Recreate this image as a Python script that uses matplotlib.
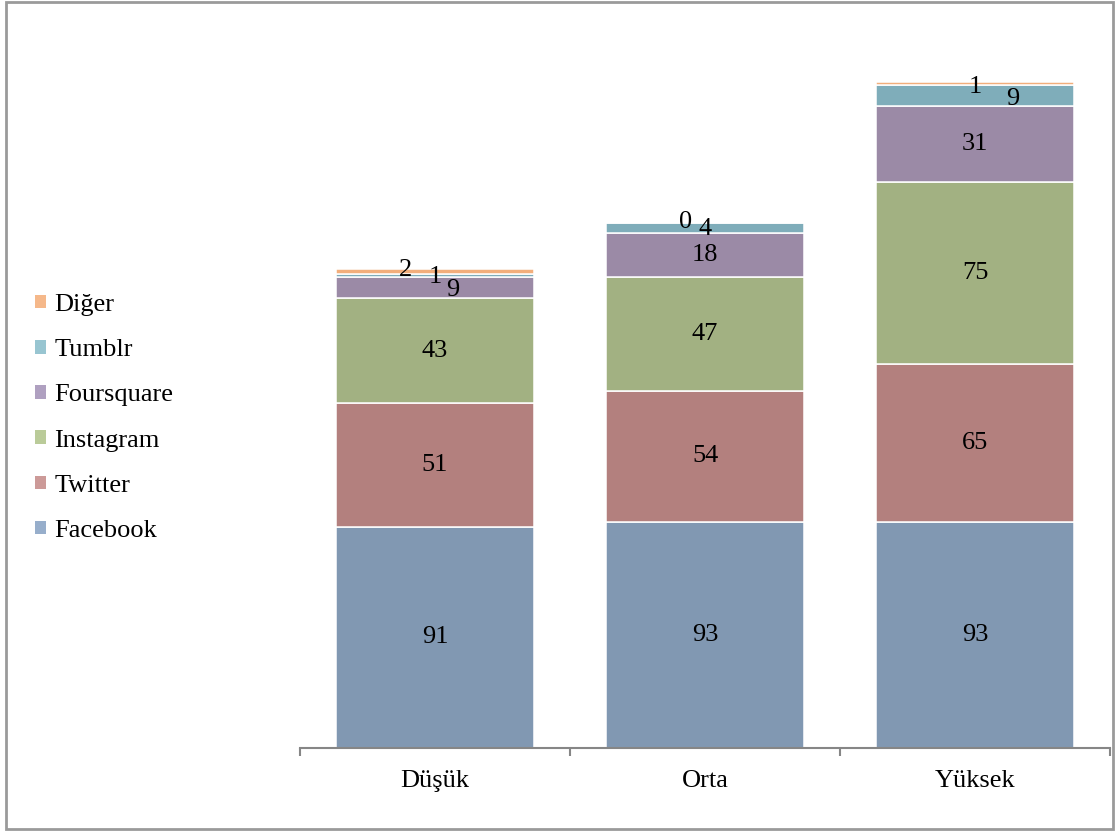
import numpy as np
import matplotlib.pyplot as plt
from matplotlib.patches import Patch, Rectangle

plt.rcParams['font.family'] = ['Liberation Serif', 'DejaVu Serif']

# Veriler
kategoriler = ['Düşük', 'Orta', 'Yüksek']
seriler = ['Facebook', 'Twitter', 'Instagram', 'Foursquare', 'Tumblr', 'Diğer']
facebook = [91, 93, 93]
twitter = [51, 54, 65]
instagram = [43, 47, 75]
foursquare = [9, 18, 31]
tumblr = [1, 4, 9]
diger = [2, 0, 1]
degerler = [facebook, twitter, instagram, foursquare, tumblr, diger]

renkler = ['#8198B2', '#B3807E', '#A2B182', '#9B8AA6', '#7FADBA', '#F2AE7C']
lejant_renk = ['#97AECB', '#CC9A98', '#BACB99', '#AFA0C0', '#98C5D1', '#F5B88A']

# küçük dilimlerin etiket kaydırmaları (punto)
kaydir = {
    (5, 0): (-21, 1), (4, 0): (0, -1.5), (3, 0): (13, -2),
    (5, 1): (-14, 1), (4, 1): (0, -1),
    (5, 2): (0, -2.5), (4, 2): (27, -2.5),
}

fig = plt.figure(figsize=(11.15, 8.31), dpi=100)
ax = fig.add_axes([300 / 1115, 83 / 831, 810 / 1115, 729 / 831])

x = np.arange(len(kategoriler))
alt = np.zeros(len(kategoriler))
for i, (ad, vals) in enumerate(zip(seriler, degerler)):
    vals = np.array(vals, dtype=float)
    ax.bar(x, vals, 0.735, bottom=alt, color=renkler[i], edgecolor='white',
           linewidth=1.1, zorder=2)
    for j in range(len(kategoriler)):
        merkez = alt[j] + vals[j] / 2
        dx, dy = kaydir.get((i, j), (0, 0))
        ax.annotate(str(int(vals[j])), (x[j], merkez), xytext=(dx, dy),
                    textcoords='offset points', ha='center', va='center',
                    fontsize=19, color='black', zorder=3)
    alt += vals

ax.set_xlim(-0.5, 2.5)
ax.set_ylim(0, 300)
ax.set_yticks([])
for s in ['left', 'top', 'right']:
    ax.spines[s].set_visible(False)
ax.spines['bottom'].set_color('#868686')
ax.spines['bottom'].set_linewidth(1.5)
ax.set_xticks(x)
ax.set_xticklabels(kategoriler, fontsize=19)
ax.tick_params(axis='x', which='major', length=0, pad=16)
ax.set_xticks([-0.5, 0.5, 1.5, 2.5], minor=True)
ax.tick_params(axis='x', which='minor', length=6, width=1.5, color='#868686', direction='out')

# lejant
tutamac = [Patch(facecolor=lejant_renk[i], edgecolor='none') for i in range(len(seriler))][::-1]
fig.legend(tutamac, seriler[::-1], loc='center left', bbox_to_anchor=(11 / 1115, 1 - 418 / 831),
           frameon=False, fontsize=19, handlelength=0.42, handleheight=0.42,
           handletextpad=0.32, labelspacing=0.88)

# dış çerçeve
fig.patches.append(Rectangle((6 / 1115, 2 / 831), 1107 / 1115, 827 / 831,
                             transform=fig.transFigure, fill=False,
                             edgecolor='#9A9A9A', linewidth=2))

fig.savefig('out.png', dpi=100, facecolor='white')
